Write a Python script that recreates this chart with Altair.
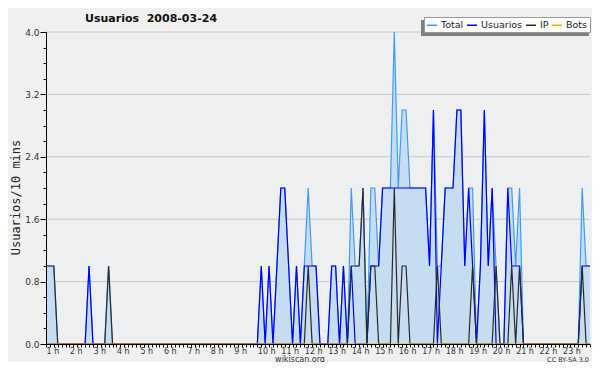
import altair as alt
import pandas as pd

# 10-minute slots (index 0..139)
total = [
    1, 1, 1, 0, 0, 0, 0, 0, 0, 0, 0, 1, 0, 0, 0, 0, 1, 0, 0, 0,
    0, 0, 0, 0, 0, 0, 0, 0, 0, 0, 0, 0, 0, 0, 0, 0, 0, 0, 0, 0,
    0, 0, 0, 0, 0, 0, 0, 0, 0, 0, 0, 0, 0, 0, 0, 1, 0, 1, 0, 1,
    2, 2, 1, 0, 1, 0, 1, 2, 1, 1, 0, 0, 0, 1, 1, 0, 1, 0, 2, 1,
    1, 2, 0, 2, 2, 1, 2, 2, 2, 4, 2, 3, 3, 2, 2, 2, 2, 2, 1, 3,
    1, 1, 2, 2, 2, 3, 3, 1, 2, 2, 0, 1, 3, 1, 2, 1, 0, 0, 2, 2,
    1, 2, 0, 0, 0, 0, 0, 0, 0, 0, 0, 0, 0, 0, 0, 0, 0, 2, 1, 1,
]
usuarios = [
    0, 0, 0, 0, 0, 0, 0, 0, 0, 0, 0, 1, 0, 0, 0, 0, 0, 0, 0, 0,
    0, 0, 0, 0, 0, 0, 0, 0, 0, 0, 0, 0, 0, 0, 0, 0, 0, 0, 0, 0,
    0, 0, 0, 0, 0, 0, 0, 0, 0, 0, 0, 0, 0, 0, 0, 1, 0, 1, 0, 1,
    2, 2, 1, 0, 1, 0, 1, 1, 1, 1, 0, 0, 0, 1, 1, 0, 1, 0, 1, 0,
    0, 0, 0, 1, 1, 1, 2, 2, 2, 2, 2, 2, 2, 2, 2, 2, 2, 2, 1, 3,
    0, 1, 2, 2, 2, 3, 3, 1, 2, 1, 0, 1, 3, 1, 2, 0, 0, 0, 2, 1,
    1, 1, 0, 0, 0, 0, 0, 0, 0, 0, 0, 0, 0, 0, 0, 0, 0, 1, 1, 1,
]
ip = [
    1, 1, 1, 0, 0, 0, 0, 0, 0, 0, 0, 0, 0, 0, 0, 0, 1, 0, 0, 0,
    0, 0, 0, 0, 0, 0, 0, 0, 0, 0, 0, 0, 0, 0, 0, 0, 0, 0, 0, 0,
    0, 0, 0, 0, 0, 0, 0, 0, 0, 0, 0, 0, 0, 0, 0, 0, 0, 0, 0, 0,
    0, 0, 0, 0, 0, 0, 0, 1, 0, 0, 0, 0, 0, 0, 0, 0, 0, 0, 1, 1,
    1, 2, 0, 1, 1, 0, 0, 0, 0, 2, 0, 1, 1, 0, 0, 0, 0, 0, 0, 0,
    1, 0, 0, 0, 0, 0, 0, 0, 0, 1, 0, 0, 0, 0, 0, 1, 0, 0, 0, 1,
    0, 1, 0, 0, 0, 0, 0, 0, 0, 0, 0, 0, 0, 0, 0, 0, 0, 1, 0, 0,
]
bots = [
    0, 0, 0, 0, 0, 0, 0, 0, 0, 0, 0, 0, 0, 0, 0, 0, 0, 0, 0, 0,
    0, 0, 0, 0, 0, 0, 0, 0, 0, 0, 0, 0, 0, 0, 0, 0, 0, 0, 0, 0,
    0, 0, 0, 0, 0, 0, 0, 0, 0, 0, 0, 0, 0, 0, 0, 0, 0, 0, 0, 0,
    0, 0, 0, 0, 0, 0, 0, 0, 0, 0, 0, 0, 0, 0, 0, 0, 0, 0, 0, 0,
    0, 0, 0, 0, 0, 0, 0, 0, 0, 0, 0, 0, 0, 0, 0, 0, 0, 0, 0, 0,
    0, 0, 0, 0, 0, 0, 0, 0, 0, 0, 0, 0, 0, 0, 0, 0, 0, 0, 0, 0,
    0, 0, 0, 0, 0, 0, 0, 0, 0, 0, 0, 0, 0, 0, 0, 0, 0, 0, 0, 0,
]
series_names = ["Total", "Usuarios", "IP", "Bots"]
series_colors = ["#3d9bff", "#0000ff", "#2a2a2a", "#ffa500"]
grid_values = [0.8, 1.6, 2.4, 3.2, 4.0]
y_ticks = [round(k * 0.2, 1) for k in range(21)]
n = len(total)

rows = []
for name, vals in zip(series_names, [total, usuarios, ip, bots]):
    for i, v in enumerate(vals):
        rows.append({"i": i, "v": v, "serie": name})
df = pd.DataFrame(rows)
df_total = pd.DataFrame({"i": list(range(n)), "v": total})

W, H = 544, 312
FONT = "DejaVu Sans"

xscale = alt.Scale(domain=[0, n - 1], nice=False, zero=False)
yscale = alt.Scale(domain=[0, 4], nice=False)
xaxis = alt.Axis(
    values=list(range(n)), title=None, grid=False,
    labelExpr="datum.value % 6 == 0 && datum.value <= 132 ? (datum.value / 6 + 1) + ' h' : ''",
    labelAlign="left", labelPadding=0, labelOverlap=False, labelBound=False,
    labelFlush=False, labelFont=FONT, labelFontSize=8, labelColor="#333333",
    tickSize=3, tickColor="#000000", domainColor="#000000", tickWidth=1, zindex=2,
)
yaxis = alt.Axis(
    values=y_ticks, title=None, grid=False,
    labelExpr="round(datum.value * 10) % 8 == 0 ? format(datum.value, '.1f') : ''",
    labelOverlap=False, labelFont=FONT, labelFontSize=9, labelColor="#333333",
    labelPadding=1, labelBound=False, labelFlush=False,
    tickSize={"condition": {"test": "round(datum.value * 10) % 8 == 0", "value": 6}, "value": 3},
    tickColor="#000000", domainColor="#000000", zindex=2,
)
cscale = alt.Scale(domain=series_names, range=series_colors)
legend = alt.Legend(
    orient="none", legendX=378, legendY=-15, direction="horizontal", title=None,
    symbolType="stroke", symbolStrokeWidth=1.5, symbolSize=100,
    labelFont=FONT, labelFontSize=9.5, labelColor="#222222", labelOffset=3,
    columnPadding=0, padding=2, fillColor="#ffffff", strokeColor="#999999",
)

grid = alt.Chart(pd.DataFrame({"g": grid_values})).mark_rule(
    color="#c8c8c8", strokeWidth=1
).encode(y=alt.Y("g:Q", scale=yscale, axis=yaxis))

area = alt.Chart(df_total).mark_area(color="#c6dcf0", opacity=1).encode(
    x=alt.X("i:Q", scale=xscale, axis=xaxis),
    y=alt.Y("v:Q", scale=yscale, axis=yaxis),
)

lines = []
for name in series_names:
    lines.append(
        alt.Chart(df).transform_filter(alt.datum.serie == name).mark_line(strokeWidth=1.2).encode(
            x=alt.X("i:Q", scale=xscale, axis=xaxis),
            y=alt.Y("v:Q", scale=yscale, axis=yaxis),
            color=alt.Color("serie:N", scale=cscale, legend=legend),
        )
    )

shadow = alt.Chart(pd.DataFrame({"a": [0]})).mark_rect(color="#7f7f7f").encode(
    x=alt.value(375), x2=alt.value(543), y=alt.value(-12), y2=alt.value(4)
)

title = alt.Chart(pd.DataFrame({"t": ["Usuarios\u00a0\u00a02008-03-24"]})).mark_text(
    font=FONT, fontSize=11, fontWeight="bold", color="#111111", align="left", baseline="alphabetic"
).encode(x=alt.value(39), y=alt.value(-10.5), text="t:N")

ytitle = alt.Chart(pd.DataFrame({"t": ["Usuarios/10 mins"]})).mark_text(
    font="DejaVu Sans Mono", fontSize=12, color="#222222", align="center",
    baseline="middle", angle=270
).encode(x=alt.value(-30), y=alt.value(165.5), text="t:N")

footer = alt.Chart(pd.DataFrame({"t": ["wikiscan.org"]})).mark_text(
    font=FONT, fontSize=8, color="#333333", align="center", baseline="alphabetic"
).encode(x=alt.value(254), y=alt.value(329.5), text="t:N")

lic = alt.Chart(pd.DataFrame({"t": ["CC BY-SA 3.0"]})).mark_text(
    font=FONT, fontSize=6.5, color="#333333", align="right", baseline="alphabetic"
).encode(x=alt.value(543), y=alt.value(329.5), text="t:N")

chart = alt.layer(grid, area, *lines, shadow, title, ytitle, footer, lic).properties(
    width=W, height=H,
    autosize=alt.AutoSizeParams(type="none"),
    padding={"left": 38, "top": 24, "right": 2, "bottom": 18},
    background="#f0f0f0",
).configure_view(stroke=None, fill="#eeeff1")

chart.save("out.html", embed_options={"renderer": "svg", "actions": False})
